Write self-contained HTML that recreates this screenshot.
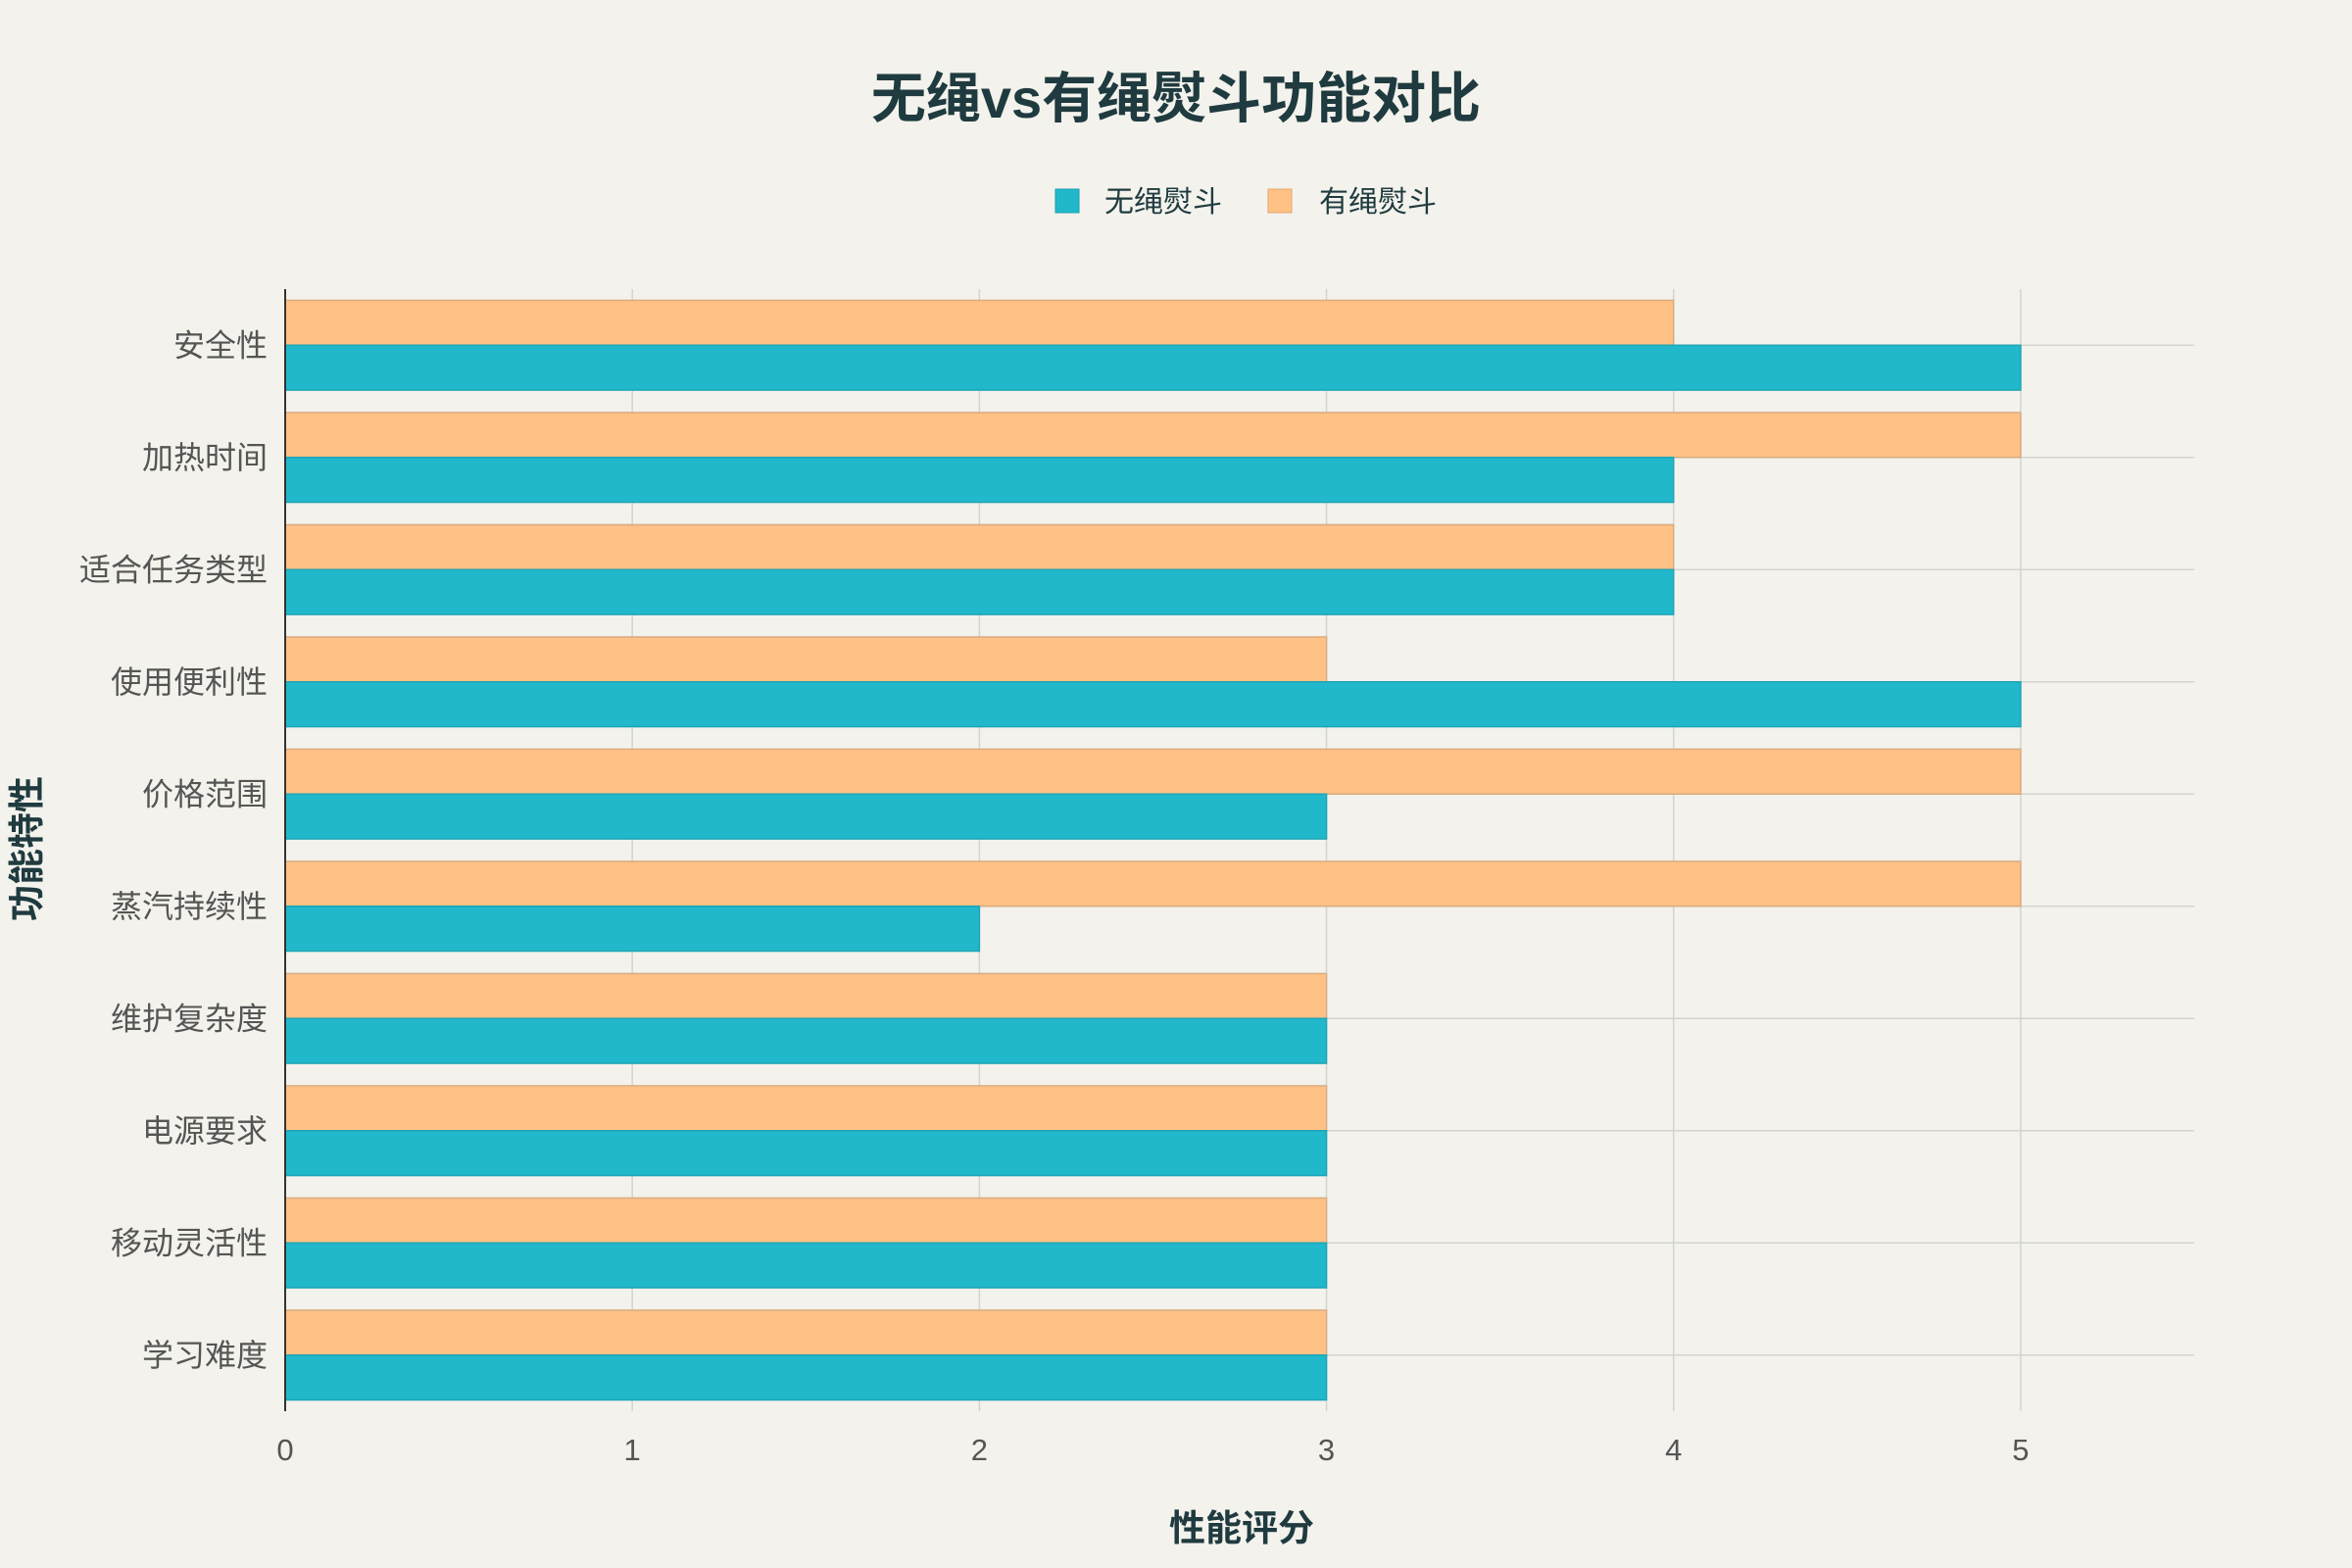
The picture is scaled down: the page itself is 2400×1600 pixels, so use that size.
<!DOCTYPE html>
<html><head><meta charset="utf-8">
<style>
html,body{margin:0;padding:0;background:#f3f2ec;}
svg{display:block;font-family:"Liberation Sans","Noto Sans CJK SC",sans-serif;}
</style></head>
<body>
<svg id="chart" width="2400" height="1600" viewBox="0 0 2400 1600">
<rect width="2400" height="1600" fill="#f3f2ec"/>
<text x="1200" y="120" text-anchor="middle" font-size="56" font-weight="bold" fill="#1f3b3f">无绳vs有绳熨斗功能对比</text>
<g>
<g>
<rect x="1077" y="193" width="24" height="24" fill="#21b8cc" stroke="#1a9fb0"/>
<text x="1127" y="216" font-size="30" fill="#1f3b3f">无绳熨斗</text>
</g>
<g>
<rect x="1294" y="193" width="24" height="24" fill="#ffc185" stroke="#e0a870"/>
<text x="1346" y="216" font-size="30" fill="#1f3b3f">有绳熨斗</text>
</g>
</g>
<g id="plot"></g>
<text x="1267" y="1572" text-anchor="middle" font-size="37" font-weight="bold" fill="#1f3b3f">性能评分</text>
<text x="0" y="0" transform="translate(40,866) rotate(-90)" text-anchor="middle" font-size="37" font-weight="bold" fill="#1f3b3f">功能特性</text>
</svg>
<script>
const categories = ["安全性","加热时间","适合任务类型","使用便利性","价格范围","蒸汽持续性","维护复杂度","电源要求","移动灵活性","学习难度"];
const wirelessValues = [5,4,4,5,3,2,3,3,3,3];
const cordedValues = [4,5,4,3,5,5,3,3,3,3];
const xTicks = [0,1,2,3,4,5];

const NS = "http://www.w3.org/2000/svg";
const plotG = document.getElementById("plot");
const plotLeft = 291, plotRight = 2239, plotTop = 295, plotBottom = 1440;
const xMax = 5.5;
const xScale = v => plotLeft + (v / xMax) * (plotRight - plotLeft);
const bandH = (plotBottom - plotTop) / categories.length;
const yCenter = i => plotTop + bandH * (i + 0.5);
function mk(tag, attrs){const e=document.createElementNS(NS,tag);for(const k in attrs)e.setAttribute(k,attrs[k]);plotG.appendChild(e);return e;}

xTicks.forEach(t=>{
  const l = mk("line",{x1:xScale(t),x2:xScale(t),y1:plotTop,y2:plotBottom,stroke:"#d4d4cf","stroke-width":1.5});
  
  
  const tx = mk("text",{x:xScale(t),y:1490,"text-anchor":"middle","font-size":31,fill:"#555"});
  tx.textContent = t;
  
  
});
categories.forEach((c,i)=>{
  const l = mk("line",{x1:plotLeft,x2:plotRight,y1:yCenter(i),y2:yCenter(i),stroke:"#d4d4cf","stroke-width":1.5});
  
  
});
const bw = bandH*0.4;
categories.forEach((c,i)=>{
  const yc = yCenter(i);
  const r1 = mk("rect",{x:xScale(0),y:yc-bw,width:xScale(cordedValues[i])-xScale(0),height:bw,fill:"#ffc185",stroke:"#d9ab80","stroke-width":1.5});
  
  
  const r2 = mk("rect",{x:xScale(0),y:yc,width:xScale(wirelessValues[i])-xScale(0),height:bw,fill:"#21b8cc",stroke:"#1ea5b6","stroke-width":1.5});
  
  
  const t = mk("text",{x:273,y:yc+11,"text-anchor":"end","font-size":32,fill:"#555"});
  t.textContent = c;
  
  
});
const ax = mk("line",{x1:plotLeft,x2:plotLeft,y1:plotTop,y2:plotBottom,stroke:"#333","stroke-width":2});


</script>
</body></html>
